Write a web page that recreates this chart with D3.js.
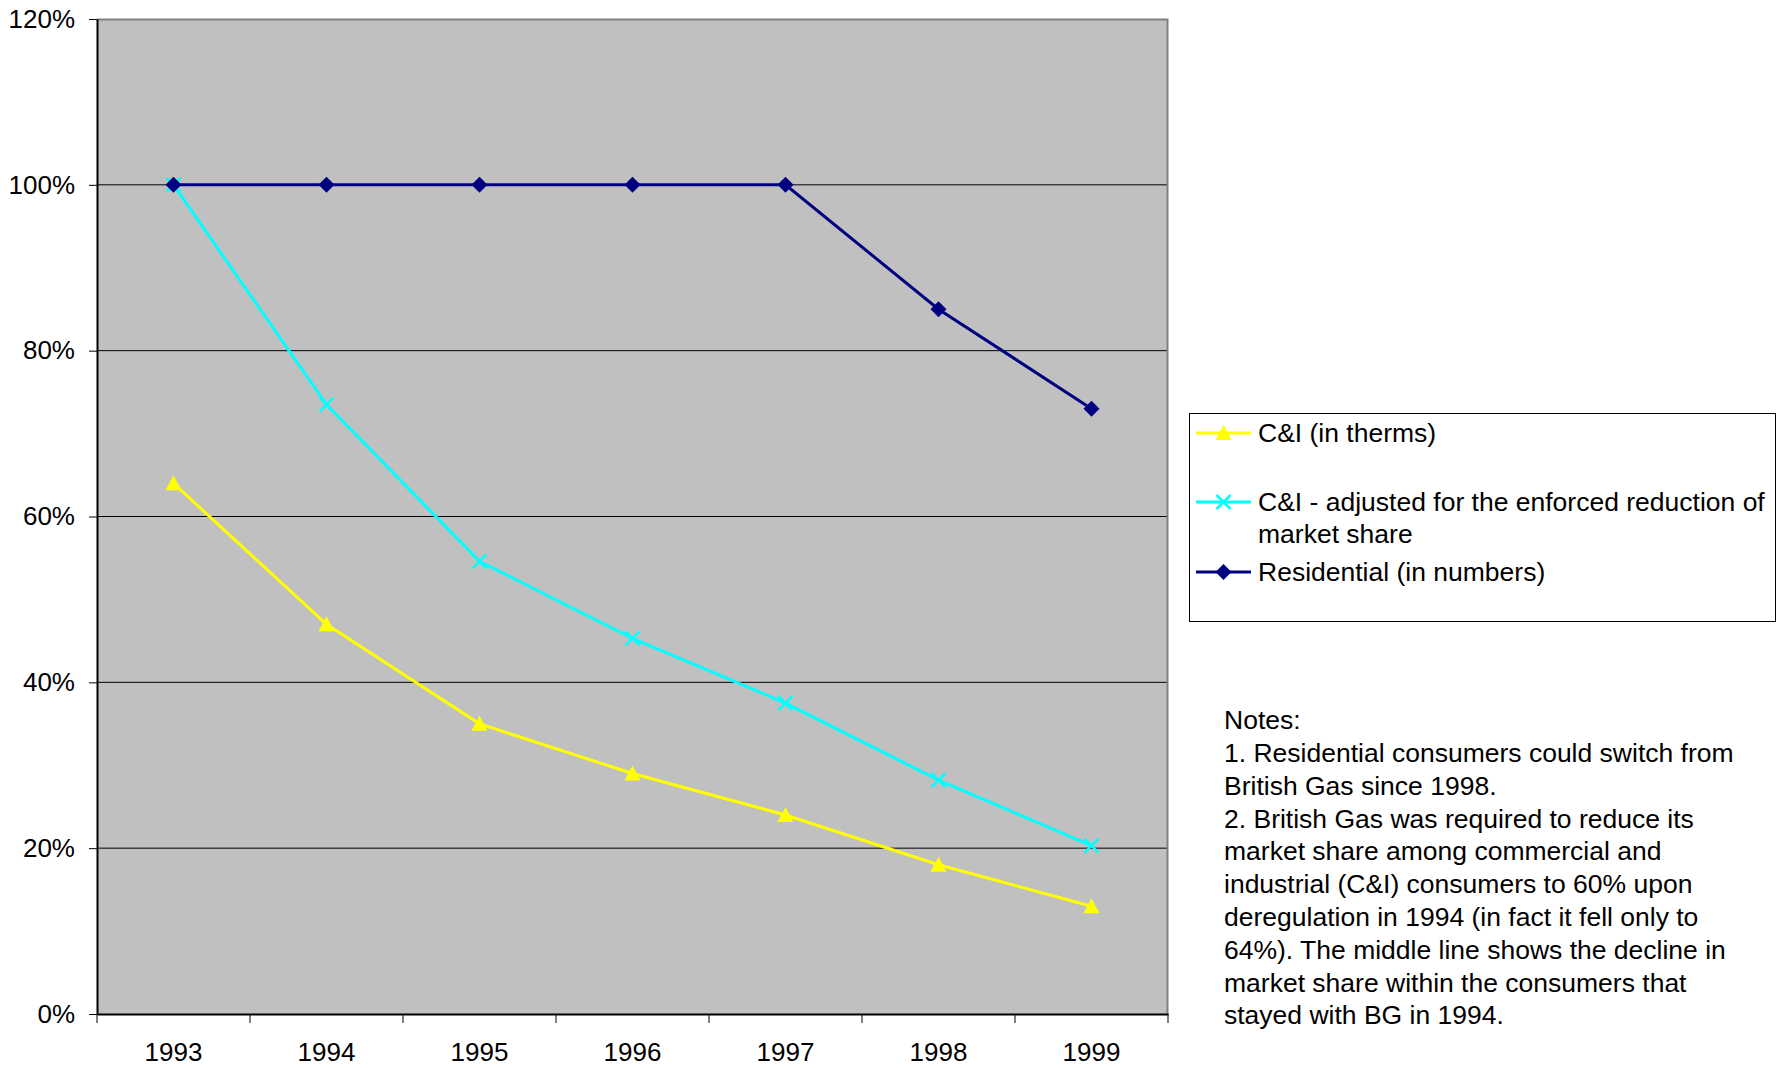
<!DOCTYPE html>
<html>
<head>
<meta charset="utf-8">
<script src="https://cdn.jsdelivr.net/npm/d3@7"></script>
<style>
  body { margin: 0; background: #fff; }
  svg text { font-family: "Liberation Sans", Arial, sans-serif; fill: #000; }
</style>
</head>
<body>
<div id="container"></div>
<script>
/* DATA */
const years = ["1993", "1994", "1995", "1996", "1997", "1998", "1999"];
const ciTherms = [64, 47, 35, 29, 24, 18, 13];
const ciAdjusted = [100, 73.5, 54.6, 45.3, 37.5, 28.2, 20.3];
const residential = [100, 100, 100, 100, 100, 85, 73];
const yTicks = [0, 20, 40, 60, 80, 100, 120];
const seriesNames = ["C&I (in therms)", "C&I - adjusted for the enforced reduction of market share", "Residential (in numbers)"];
const notes = [
  "Notes:",
  "1. Residential consumers could switch from",
  "British Gas since 1998.",
  "2. British Gas was required to reduce its",
  "market share among commercial and",
  "industrial (C&I) consumers to 60% upon",
  "deregulation in 1994 (in fact it fell only to",
  "64%). The middle line shows the decline in",
  "market share within the consumers that",
  "stayed with BG in 1994."
];

/* CONSTANTS */
const width = 1790, height = 1068;
const plot = { left: 97, right: 1168, top: 19, bottom: 1014 };
const legendBox = { x: 1189.5, y: 413.5, w: 586, h: 208 };

const series = [
  { name: seriesNames[0], values: ciTherms, color: "#FFFF00", marker: "triangle" },
  { name: seriesNames[1], values: ciAdjusted, color: "#00FFFF", marker: "cross" },
  { name: seriesNames[2], values: residential, color: "#000080", marker: "diamond" }
];

/* SCALES */
const xScale = d3.scaleBand()
  .domain(years)
  .range([plot.left, plot.right]);

const yScale = d3.scaleLinear()
  .domain([0, 120])
  .range([plot.bottom, plot.top]);

const svg = d3.select("#container")
  .append("svg")
  .attr("width", width)
  .attr("height", height);

// plot background
svg.append("rect")
  .attr("x", plot.left)
  .attr("y", plot.top)
  .attr("width", plot.right - plot.left)
  .attr("height", plot.bottom - plot.top)
  .attr("fill", "#C0C0C0");

// gridlines
svg.selectAll("line.grid")
  .data(yTicks.filter(d => d > 0 && d < 120))
  .join("line")
  .attr("class", "grid")
  .attr("x1", plot.left)
  .attr("x2", plot.right)
  .attr("y1", d => yScale(d))
  .attr("y2", d => yScale(d))
  .attr("stroke", "#000")
  .attr("stroke-width", 1);

// top and right border (gray)
svg.append("path")
  .attr("d", `M${plot.left},${plot.top + 0.5}H${plot.right - 0.5}V${plot.bottom}`)
  .attr("fill", "none")
  .attr("stroke", "#808080")
  .attr("stroke-width", 2);

// y axis
const yAxis = svg.append("g")
  .attr("transform", `translate(${plot.left}, 0)`)
  .call(d3.axisLeft(yScale).tickValues(yTicks).tickSize(8).tickSizeOuter(0).tickPadding(14).tickFormat(d => d + "%"));
yAxis.select(".domain").attr("stroke", "#000").attr("stroke-width", 2);
yAxis.selectAll(".tick line").attr("stroke", "#000");
yAxis.selectAll("text").style("font-size", "26px");

// x axis (labels centered, ticks at category boundaries)
const xAxis = svg.append("g")
  .attr("transform", `translate(0, ${plot.bottom})`)
  .call(d3.axisBottom(xScale).tickSize(0).tickSizeOuter(0).tickPadding(29));
xAxis.select(".domain").attr("stroke", "#000").attr("stroke-width", 2);
xAxis.selectAll("text").style("font-size", "26px");

const boundaries = years.map(y => xScale(y)).concat([plot.right]);
svg.selectAll("line.xtick")
  .data(boundaries)
  .join("line")
  .attr("class", "xtick")
  .attr("x1", d => d)
  .attr("x2", d => d)
  .attr("y1", plot.bottom)
  .attr("y2", plot.bottom + 9)
  .attr("stroke", "#000");

/* MARKERS */
function drawMarker(g, type, color) {
  if (type === "triangle") {
    g.append("path").attr("d", "M0,-8L8,7L-8,7Z").attr("fill", color);
  } else if (type === "cross") {
    g.append("path").attr("d", "M-7,-7L7,7M-7,7L7,-7").attr("stroke", color).attr("stroke-width", 2.5);
  } else {
    g.append("path").attr("d", "M0,-8L8,0L0,8L-8,0Z").attr("fill", color);
  }
}

const line = d3.line()
  .x((d, i) => xScale(years[i]) + xScale.bandwidth() / 2)
  .y(d => yScale(d));

series.forEach(s => {
  svg.append("path")
    .datum(s.values)
    .attr("d", line)
    .attr("fill", "none")
    .attr("stroke", s.color)
    .attr("stroke-width", 3);
});

series.forEach(s => {
  s.values.forEach((v, i) => {
    const g = svg.append("g")
      .attr("transform", `translate(${xScale(years[i]) + xScale.bandwidth() / 2}, ${yScale(v)})`);
    drawMarker(g, s.marker, s.color);
  });
});

/* LEGEND */
const legend = svg.append("g");
legend.append("rect")
  .attr("x", legendBox.x)
  .attr("y", legendBox.y)
  .attr("width", legendBox.w)
  .attr("height", legendBox.h)
  .attr("fill", "#fff")
  .attr("stroke", "#000")
  .attr("stroke-width", 1);

const legendRows = [
  { y: 433, lines: [seriesNames[0]] },
  { y: 502, lines: ["C&I - adjusted for the enforced reduction of", "market share"] },
  { y: 572, lines: [seriesNames[2]] }
];
legendRows.forEach((r, i) => {
  const s = series[i];
  legend.append("line")
    .attr("x1", 1196).attr("x2", 1251)
    .attr("y1", r.y).attr("y2", r.y)
    .attr("stroke", s.color).attr("stroke-width", 3);
  drawMarker(legend.append("g").attr("transform", `translate(1223.5, ${r.y})`), s.marker, s.color);
  r.lines.forEach((t, j) => {
    legend.append("text")
      .attr("x", 1258)
      .attr("y", r.y + j * 32)
      .attr("dy", "0.35em")
      .style("font-size", "26.5px")
      .text(t);
  });
});

/* NOTES */
svg.selectAll("text.note")
  .data(notes)
  .join("text")
  .attr("class", "note")
  .attr("x", 1224)
  .attr("y", (d, i) => 720 + i * 32.8)
  .attr("dy", "0.35em")
  .style("font-size", "26.5px")
  .text(d => d);
</script>
</body>
</html>
